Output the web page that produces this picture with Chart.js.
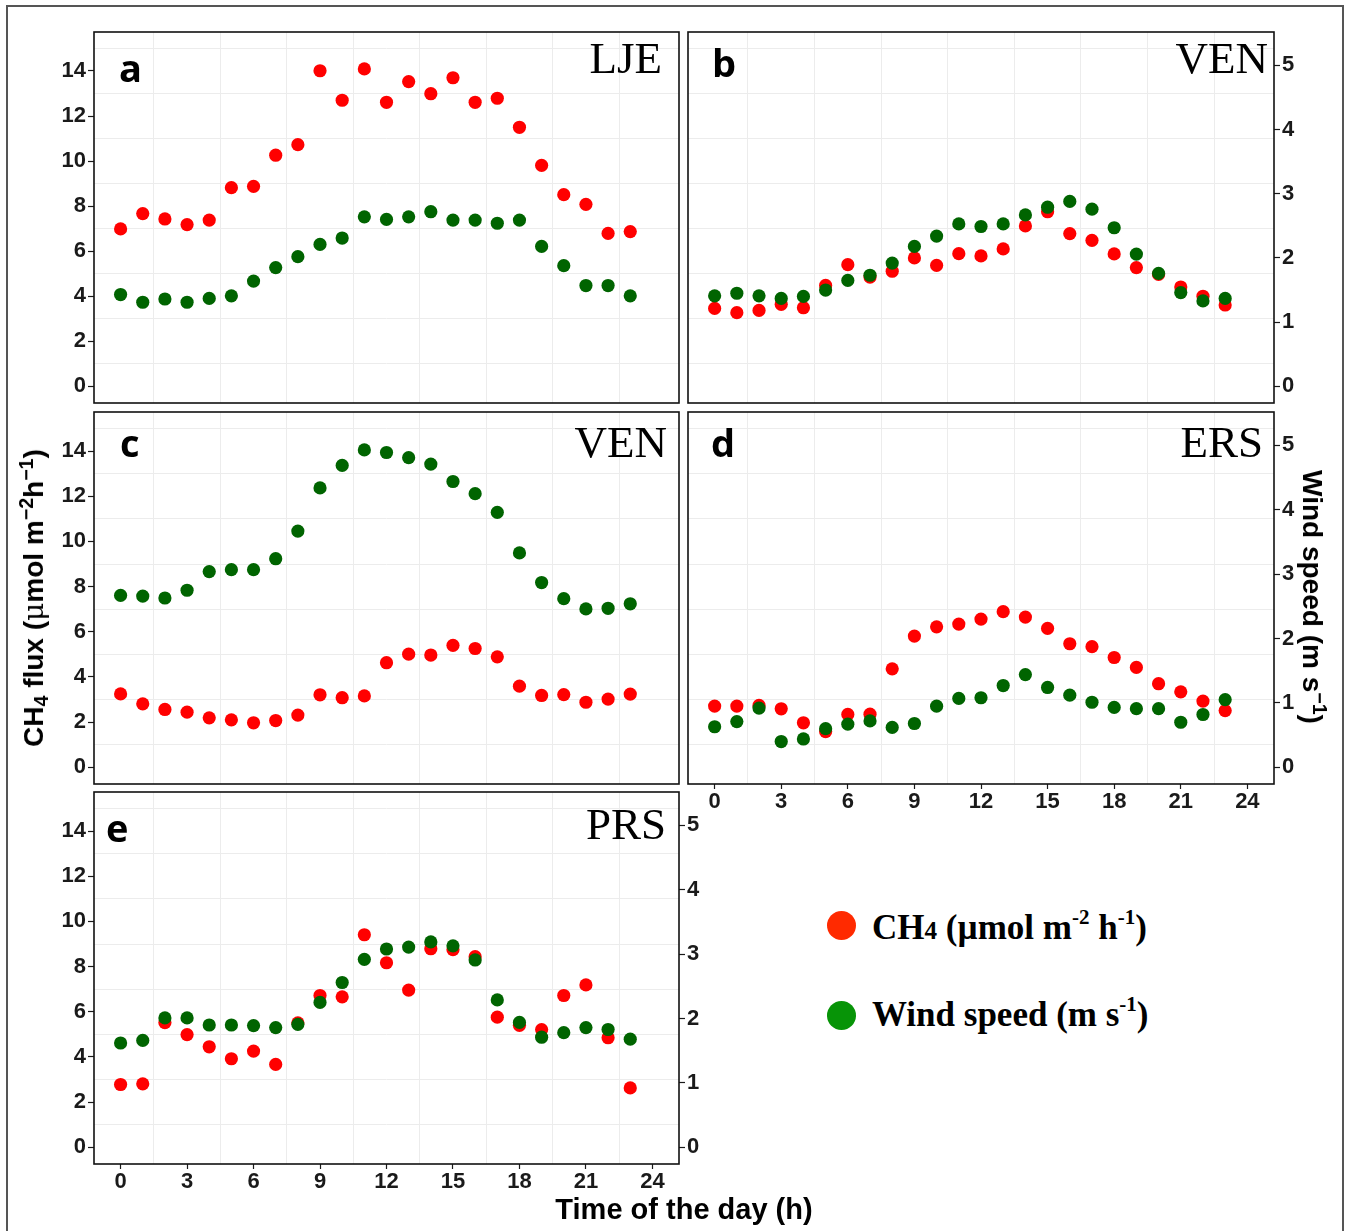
<!DOCTYPE html>
<html>
<head>
<meta charset="utf-8">
<title>CH4 flux and wind speed by hour</title>
<script src="https://cdn.jsdelivr.net/npm/chart.js@4.4.0/dist/chart.umd.min.js"></script>
<style>
  html, body { margin: 0; padding: 0; background: #fff; }
  body { width: 1350px; height: 1231px; position: relative; overflow: hidden; font-family: 'Liberation Sans', Arial, sans-serif; }
  #frame { position: absolute; left: 6px; top: 5px; width: 1334px; height: 1260px; border: 2px solid #555; border-bottom: none; }
  canvas { position: absolute; }
  .axis-title { position: absolute; font-weight: bold; font-size: 28px; line-height: 1; color: #000; white-space: nowrap; }
  #xtitle { font-size: 29px; }
  .sub { font-size: 0.7em; position: relative; top: 0.25em; }
  .sup { font-size: 0.7em; position: relative; top: -0.5em; }
  .mu { font-weight: normal; font-family: 'DejaVu Serif', serif; }
  .legend-dot { position: absolute; width: 29px; height: 29px; border-radius: 50%; }
  .legend-text { position: absolute; font-family: 'Liberation Serif', 'Times New Roman', serif; font-weight: bold; font-size: 35px; line-height: 1; white-space: nowrap; color: #000; }
  .legend-text .lsup { font-size: 0.6em; position: relative; top: -0.7em; }
  .legend-text .lsub { font-size: 0.72em; }
</style>
</head>
<body>
<div id="frame"></div>

<canvas id="panel-a"></canvas>
<canvas id="panel-b"></canvas>
<canvas id="panel-c"></canvas>
<canvas id="panel-d"></canvas>
<canvas id="panel-e"></canvas>

<div class="axis-title" id="ytitle-left">CH<span class="sub">4</span> flux (<span class="mu">μ</span>mol m<span class="sup">−2</span>h<span class="sup">−1</span>)</div>
<div class="axis-title" id="ytitle-right">Wind speed (m s<span class="sup">−1</span>)</div>
<div class="axis-title" id="xtitle">Time of the day (h)</div>

<div class="legend-dot" style="left:827px; top:911px; background:#ff2a00;"></div>
<div class="legend-text" style="left:872px; top:910px;">CH<span class="lsub">4</span> (µmol m<span class="lsup">-2</span> h<span class="lsup">-1</span>)</div>
<div class="legend-dot" style="left:827px; top:1001px; background:#079407;"></div>
<div class="legend-text" style="left:872px; top:997px;">Wind speed (m s<span class="lsup">-1</span>)</div>

<script>
// Hour of the day (x)
const hours = [0, 1, 2, 3, 4, 5, 6, 7, 8, 9, 10, 11, 12, 13, 14, 15, 16, 17, 18, 19, 20, 21, 22, 23];

// a - LJE
const ljeCH4  = [6.99, 7.67, 7.43, 7.18, 7.38, 8.82, 8.88, 10.26, 10.73, 14.01, 12.70, 14.09, 12.61, 13.53, 12.99, 13.70, 12.61, 12.79, 11.50, 9.81, 8.51, 8.08, 6.79, 6.87];
const ljeWind = [1.43, 1.31, 1.36, 1.31, 1.37, 1.41, 1.64, 1.85, 2.02, 2.21, 2.31, 2.64, 2.60, 2.64, 2.72, 2.59, 2.59, 2.54, 2.59, 2.18, 1.88, 1.57, 1.57, 1.41];

// b - VEN
const venbCH4  = [3.46, 3.27, 3.37, 3.64, 3.49, 4.48, 5.40, 4.85, 5.11, 5.70, 5.37, 5.89, 5.79, 6.10, 7.12, 7.75, 6.78, 6.48, 5.88, 5.27, 4.97, 4.41, 4.00, 3.61];
const venbWind = [1.41, 1.45, 1.41, 1.37, 1.40, 1.50, 1.65, 1.73, 1.92, 2.18, 2.34, 2.53, 2.49, 2.53, 2.67, 2.79, 2.88, 2.76, 2.47, 2.06, 1.76, 1.46, 1.33, 1.37];

// c - VEN
const vencCH4  = [3.25, 2.81, 2.56, 2.44, 2.19, 2.10, 1.97, 2.07, 2.31, 3.21, 3.08, 3.16, 4.63, 5.01, 4.97, 5.40, 5.26, 4.89, 3.59, 3.18, 3.22, 2.88, 3.02, 3.24];
const vencWind = [2.67, 2.66, 2.63, 2.75, 3.04, 3.07, 3.07, 3.24, 3.67, 4.34, 4.69, 4.93, 4.89, 4.81, 4.71, 4.44, 4.25, 3.96, 3.33, 2.87, 2.62, 2.46, 2.47, 2.54];

// d - ERS
const ersCH4  = [2.71, 2.71, 2.74, 2.59, 1.97, 1.58, 2.34, 2.35, 4.36, 5.81, 6.22, 6.34, 6.56, 6.89, 6.65, 6.15, 5.47, 5.34, 4.86, 4.42, 3.70, 3.34, 2.93, 2.51];
const ersWind = [0.63, 0.71, 0.92, 0.40, 0.44, 0.60, 0.67, 0.72, 0.62, 0.68, 0.95, 1.07, 1.08, 1.27, 1.44, 1.24, 1.12, 1.01, 0.93, 0.91, 0.91, 0.70, 0.82, 1.05];

// e - PRS
const prsCH4  = [2.78, 2.81, 5.52, 4.99, 4.45, 3.92, 4.26, 3.67, 5.51, 6.72, 6.66, 9.41, 8.17, 6.96, 8.79, 8.75, 8.44, 5.76, 5.40, 5.21, 6.72, 7.19, 4.85, 2.63];
const prsWind = [1.62, 1.66, 2.01, 2.01, 1.90, 1.90, 1.89, 1.86, 1.91, 2.25, 2.56, 2.92, 3.08, 3.11, 3.19, 3.13, 2.91, 2.29, 1.94, 1.71, 1.78, 1.86, 1.83, 1.68];

// Tick labels and light grid positions
const xTicks    = [0, 3, 6, 9, 12, 15, 18, 21, 24];
const xGrid     = [1.5, 4.5, 7.5, 10.5, 13.5, 16.5, 19.5, 22.5];
const ch4Ticks  = [0, 2, 4, 6, 8, 10, 12, 14];
const ch4Grid   = [1, 3, 5, 7, 9, 11, 13, 15];
const windTicks = [0, 1, 2, 3, 4, 5];

// Scale ranges (wind axis is CH4 axis divided by a constant)
const X_MIN = -1.2, X_MAX = 25.2;
const CH4_MIN = -0.74, CH4_MAX = 15.73;
const RATIO = 2.85;

const GRID = '#ececec';
const NONE = 'rgba(0,0,0,0)';
const INK = '#1a1a1a';
const tickFont = { family: 'Liberation Sans', size: 22, weight: 'bold' };

// plot box = [left, top, right, bottom] in page pixels
const panels = [
    { id: 'panel-a', letter: 'a', site: 'LJE', ch4: ljeCH4,  wind: ljeWind,  box: [94, 32, 679, 403],   left: true,  right: false, bottom: false, letterAt: [25, 50], siteAt: [17, 41] },
    { id: 'panel-b', letter: 'b', site: 'VEN', ch4: venbCH4, wind: venbWind, box: [688, 32, 1274, 403], left: false, right: true,  bottom: false, letterAt: [24, 45], siteAt: [6, 41] },
    { id: 'panel-c', letter: 'c', site: 'VEN', ch4: vencCH4, wind: vencWind, box: [94, 412, 679, 784],  left: true,  right: false, bottom: false, letterAt: [26, 45], siteAt: [12, 45] },
    { id: 'panel-d', letter: 'd', site: 'ERS', ch4: ersCH4,  wind: ersWind,  box: [688, 412, 1274, 784], left: false, right: true,  bottom: true,  letterAt: [23, 45], siteAt: [11, 45] },
    { id: 'panel-e', letter: 'e', site: 'PRS', ch4: prsCH4,  wind: prsWind,  box: [94, 792, 679, 1164], left: true,  right: true,  bottom: true,  letterAt: [12, 50], siteAt: [13, 47] }
];

const M_LEFT = 60, M_RIGHT = 60, M_TOP = 20, M_BOTTOM = 45;

function tickList(major, minor) {
    return major.concat(minor).sort((p, q) => p - q).map(v => ({ value: v }));
}

/**
 * Frame, panel letter and site name
 */
function panelDecor(p) {
    return {
        id: 'panelDecor',
        afterDraw(chart) {
            const ctx = chart.ctx;
            const ca = chart.chartArea;
            ctx.save();
            ctx.strokeStyle = '#111';
            ctx.lineWidth = 1.6;
            ctx.strokeRect(ca.left, ca.top, ca.right - ca.left, ca.bottom - ca.top);
            ctx.fillStyle = '#000';
            ctx.textBaseline = 'alphabetic';
            ctx.textAlign = 'left';
            ctx.font = 'bold 38px "Open Sans"';
            ctx.fillText(p.letter, ca.left + p.letterAt[0], ca.top + p.letterAt[1]);
            ctx.textAlign = 'right';
            ctx.font = '45px "Liberation Serif"';
            ctx.fillText(p.site, ca.right - p.siteAt[0], ca.top + p.siteAt[1]);
            ctx.restore();
        }
    };
}

function makePanel(p) {
    const [l, t, r, b] = p.box;
    const canvas = document.getElementById(p.id);
    canvas.width = (r - l) + M_LEFT + M_RIGHT;
    canvas.height = (b - t) + M_TOP + M_BOTTOM;
    canvas.style.left = (l - M_LEFT) + 'px';
    canvas.style.top = (t - M_TOP) + 'px';

    new Chart(canvas, {
        type: 'scatter',
        data: {
            datasets: [
                {
                    label: 'Wind speed',
                    data: hours.map((h, i) => ({ x: h, y: p.wind[i] })),
                    yAxisID: 'y2',
                    backgroundColor: '#006400',
                    borderWidth: 0,
                    pointRadius: 6.6,
                    order: 0
                },
                {
                    label: 'CH4',
                    data: hours.map((h, i) => ({ x: h, y: p.ch4[i] })),
                    yAxisID: 'y',
                    backgroundColor: '#ff0000',
                    borderWidth: 0,
                    pointRadius: 6.6,
                    order: 1
                }
            ]
        },
        options: {
            responsive: false,
            animation: false,
            layout: { padding: { top: M_TOP } },
            plugins: { legend: { display: false }, tooltip: { enabled: false } },
            scales: {
                x: {
                    type: 'linear',
                    position: 'bottom',
                    min: X_MIN,
                    max: X_MAX,
                    bounds: 'data',
                    afterBuildTicks: s => { s.ticks = tickList(xTicks, xGrid); },
                    afterFit: s => { s.height = M_BOTTOM; },
                    border: { display: false },
                    grid: {
                        color: c => (c.tick && xGrid.includes(c.tick.value)) ? GRID : NONE,
                        lineWidth: 1,
                        tickLength: 5,
                        tickWidth: 1.2,
                        tickColor: c => (p.bottom && c.tick && xTicks.includes(c.tick.value)) ? INK : NONE
                    },
                    ticks: {
                        display: p.bottom,
                        autoSkip: false,
                        maxRotation: 0,
                        padding: 0,
                        color: INK,
                        font: tickFont,
                        callback: v => xTicks.includes(v) ? String(v) : ''
                    }
                },
                y: {
                    type: 'linear',
                    position: 'left',
                    min: CH4_MIN,
                    max: CH4_MAX,
                    bounds: 'data',
                    afterBuildTicks: s => { s.ticks = tickList(ch4Ticks, ch4Grid); },
                    afterFit: s => { s.width = M_LEFT; },
                    border: { display: false },
                    grid: {
                        color: c => (c.tick && ch4Grid.includes(c.tick.value)) ? GRID : NONE,
                        lineWidth: 1,
                        tickLength: 6,
                        tickWidth: 1.2,
                        tickColor: c => (p.left && c.tick && ch4Ticks.includes(c.tick.value)) ? INK : NONE
                    },
                    ticks: {
                        display: p.left,
                        autoSkip: false,
                        padding: 2,
                        color: INK,
                        font: tickFont,
                        callback: v => ch4Ticks.includes(v) ? String(v) : ''
                    }
                },
                y2: {
                    type: 'linear',
                    position: 'right',
                    min: CH4_MIN / RATIO,
                    max: CH4_MAX / RATIO,
                    bounds: 'data',
                    afterBuildTicks: s => { s.ticks = windTicks.map(v => ({ value: v })); },
                    afterFit: s => { s.width = M_RIGHT; },
                    border: { display: false },
                    grid: {
                        drawOnChartArea: false,
                        tickLength: 6,
                        tickWidth: 1.2,
                        tickColor: p.right ? INK : NONE
                    },
                    ticks: {
                        display: p.right,
                        autoSkip: false,
                        padding: 2,
                        color: INK,
                        font: tickFont,
                        callback: v => String(v)
                    }
                }
            }
        },
        plugins: [panelDecor(p)]
    });
}

function placeTitles() {
    const left = document.getElementById('ytitle-left');
    left.style.left = '34px';
    left.style.top = '598px';
    left.style.transform = 'translate(-50%, -50%) rotate(-90deg)';

    const right = document.getElementById('ytitle-right');
    right.style.left = '1312px';
    right.style.top = '597px';
    right.style.transform = 'translate(-50%, -50%) rotate(90deg)';

    const bottom = document.getElementById('xtitle');
    bottom.style.left = '684px';
    bottom.style.top = '1209px';
    bottom.style.transform = 'translate(-50%, -50%)';
}

placeTitles();
panels.forEach(makePanel);
</script>
</body>
</html>
